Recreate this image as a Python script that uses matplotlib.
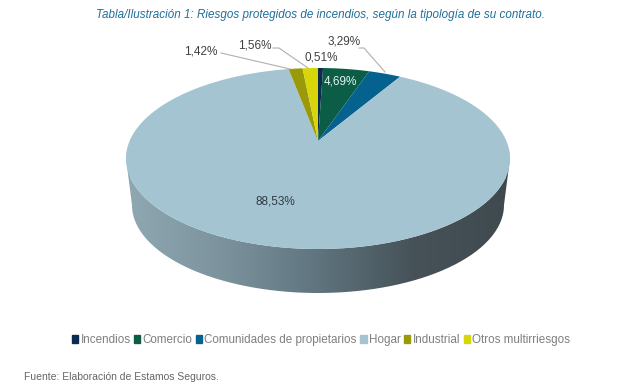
import numpy as np
from matplotlib import pyplot as plt
from matplotlib.colors import LinearSegmentedColormap
from matplotlib.patches import Patch, PathPatch
from matplotlib.path import Path

plt.rcParams['font.family'] = ['Liberation Sans', 'DejaVu Sans']

categorias = ['Incendios', 'Comercio', 'Comunidades de propietarios', 'Hogar', 'Industrial', 'Otros multirriesgos']
valores = [0.51, 4.69, 3.29, 88.53, 1.42, 1.56]
etiquetas = ['0,51%', '4,69%', '3,29%', '88,53%', '1,42%', '1,56%']
cores = ['#0d2a4f', '#0b5d45', '#05628f', '#a5c4d2', '#9a9a08', '#d6d60a']

# posicao (pixels) e cor de cada etiqueta
pos_etiquetas = [(321, 57), (340, 82), (344, 41), (275, 201), (201, 51), (255, 45)]
cor_etiquetas = ['#404040', '#e8f2f0', '#404040', '#303c42', '#404040', '#404040']

# linhas de chamada
chamadas = [
  [(359, 48), (364, 48), (385, 72)],
  [(221, 53), (290, 69)],
  [(273, 48), (279, 48), (308, 68)],
]

CX = 318
R = 188.4
C_PERSP = 0.1934


def projetar(u, v):
  # Projecao em perspectiva do disco unitario para pixels
  w = 1 + C_PERSP * v
  return CX + R * u / w, (141 - 59.85 * v) / w


def fatia(inicio, fim):
  # Angulos em sentido horario a partir do topo
  t = np.radians(np.linspace(inicio, fim, max(int(fim - inicio) * 2, 8)))
  x, y = projetar(np.sin(t), np.cos(t))
  ax0, ay0 = projetar(0, 0)
  return np.r_[ax0, x], np.r_[ay0, y]


fig = plt.figure(figsize=(6.4, 3.9), dpi=100)
ax = fig.add_axes([0, 0, 1, 1])
ax.axis('off')

# Lateral do cilindro com gradiente
t = np.radians(np.linspace(90, 270, 200))
topo_x, topo_y = projetar(np.sin(t), np.cos(t))
ordem = np.argsort(topo_x)
topo_x, topo_y = topo_x[ordem], topo_y[ordem]
s = np.radians(np.linspace(-90, 90, 200))
base_x = 318 + 186 * np.sin(s)
base_y = 205 + 88 * np.cos(s)
borda = np.column_stack([np.r_[topo_x, base_x[::-1]], np.r_[topo_y, base_y[::-1]]])

grad = LinearSegmentedColormap.from_list('lateral', ['#8fa8b2', '#7c939d', '#5f747e', '#465258', '#3f4a4f'])
img = ax.imshow(np.linspace(0, 1, 256)[None, :], cmap=grad, extent=(126, 510, 300, 150), aspect='auto', zorder=1)
clip = PathPatch(Path(borda, closed=False), transform=ax.transData, fc='none', ec='none')
ax.add_patch(clip)
img.set_clip_path(clip)

# Fatias do topo
angulos = np.r_[0, np.cumsum(valores)] * 3.6
for i in range(len(valores)):
  x, y = fatia(angulos[i], angulos[i + 1])
  ax.fill(x, y, color=cores[i], lw=0, zorder=2)

for linha in chamadas:
  lx, ly = zip(*linha)
  ax.plot(lx, ly, color='#b0b0b0', lw=0.8, zorder=3)

for texto, (x, y), cor in zip(etiquetas, pos_etiquetas, cor_etiquetas):
  ax.text(x, y, texto, color=cor, fontsize=8.5, ha='center', va='center', zorder=4)

ax.set_xlim(0, 640)
ax.set_ylim(390, 0)

ax.text(321, 15, 'Tabla/Ilustración 1: Riesgos protegidos de incendios, según la tipología de su contrato.',
        color='#1f6f9b', fontsize=8.4, style='italic', ha='center', va='center')
ax.text(24, 377, 'Fuente: Elaboración de Estamos Seguros.', color='#666666', fontsize=7.5, ha='left', va='center')

handles = [Patch(color=c, label=n) for c, n in zip(cores, categorias)]
ax.legend(handles=handles, loc='center', bbox_to_anchor=(321 / 640, 1 - 340 / 390), ncol=6, frameon=False,
          fontsize=8.4, labelcolor='#7f7f7f', handlelength=0.55, handleheight=0.6, handletextpad=0.2,
          columnspacing=0.28, borderpad=0, borderaxespad=0)

plt.savefig('out.png', dpi=100)
